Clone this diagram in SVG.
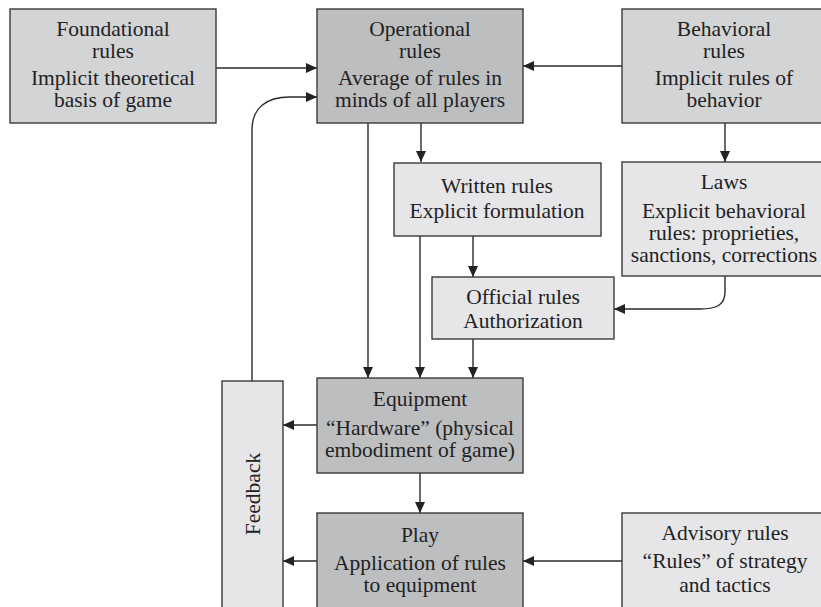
<svg xmlns="http://www.w3.org/2000/svg" width="821" height="607" viewBox="0 0 821 607">
<style>
.box{stroke:#3a3a3a;stroke-width:1.4}
.l{fill:#e6e6e8}.m{fill:#d3d4d6}.d{fill:#bdbec0}
text{font-family:"Liberation Serif","DejaVu Serif",serif;font-size:21.5px;fill:#222;text-anchor:middle}
.c{fill:none;stroke:#2a2a2a;stroke-width:1.4}
</style>
<defs>
<marker id="ah" markerUnits="userSpaceOnUse" markerWidth="11" markerHeight="10" refX="11" refY="5" orient="auto">
<path d="M0,0 L11,5 L0,10 z" fill="#222"/>
</marker>
</defs>
<rect width="821" height="607" fill="#ffffff"/>
<g id="connectors">
<path class="c" d="M216 68 H317" marker-end="url(#ah)"/>
<path class="c" d="M622 66 H523" marker-end="url(#ah)"/>
<path class="c" d="M252 381 V130 C252 108 266 97 290 97 H317" marker-end="url(#ah)"/>
<path class="c" d="M421 123 V162" marker-end="url(#ah)"/>
<path class="c" d="M725 123 V162" marker-end="url(#ah)"/>
<path class="c" d="M368 123 V378" marker-end="url(#ah)"/>
<path class="c" d="M420 236 V378" marker-end="url(#ah)"/>
<path class="c" d="M473 236 V277" marker-end="url(#ah)"/>
<path class="c" d="M473 339 V378" marker-end="url(#ah)"/>
<path class="c" d="M725 276 V292 C725 304 718 309 700 309 H614" marker-end="url(#ah)"/>
<path class="c" d="M317 425 H283" marker-end="url(#ah)"/>
<path class="c" d="M420 473 V513" marker-end="url(#ah)"/>
<path class="c" d="M317 561 H283" marker-end="url(#ah)"/>
<path class="c" d="M622 561 H523" marker-end="url(#ah)"/>
</g>
<g id="foundational">
<rect class="box m" x="10" y="9" width="206" height="114"/>
<text x="113" y="36">Foundational</text>
<text x="113" y="58">rules</text>
<text x="113" y="85">Implicit theoretical</text>
<text x="113" y="107">basis of game</text>
</g>
<g id="operational">
<rect class="box d" x="317" y="9" width="206" height="114"/>
<text x="420" y="36">Operational</text>
<text x="420" y="58">rules</text>
<text x="420" y="85">Average of rules in</text>
<text x="420" y="107">minds of all players</text>
</g>
<g id="behavioral">
<rect class="box m" x="622" y="9" width="205" height="114"/>
<text x="724" y="36">Behavioral</text>
<text x="724" y="58">rules</text>
<text x="724" y="85">Implicit rules of</text>
<text x="724" y="107">behavior</text>
</g>
<g id="written">
<rect class="box l" x="394" y="163" width="207" height="73"/>
<text x="497" y="193">Written rules</text>
<text x="497" y="218">Explicit formulation</text>
</g>
<g id="laws">
<rect class="box l" x="622" y="162" width="205" height="114"/>
<text x="724" y="189">Laws</text>
<text x="724" y="218">Explicit behavioral</text>
<text x="724" y="240">rules: proprieties,</text>
<text x="724" y="262">sanctions, corrections</text>
</g>
<g id="official">
<rect class="box l" x="432" y="277" width="182" height="62"/>
<text x="523" y="304">Official rules</text>
<text x="523" y="328">Authorization</text>
</g>
<g id="equipment">
<rect class="box d" x="317" y="378" width="206" height="95"/>
<text x="420" y="406">Equipment</text>
<text x="420" y="435">“Hardware” (physical</text>
<text x="420" y="457">embodiment of game)</text>
</g>
<g id="feedback">
<rect class="box l" x="222" y="381" width="61" height="240"/>
<text transform="translate(260,494) rotate(-90)">Feedback</text>
</g>
<g id="play">
<rect class="box d" x="317" y="513" width="206" height="110"/>
<text x="420" y="542">Play</text>
<text x="420" y="570">Application of rules</text>
<text x="420" y="592">to equipment</text>
</g>
<g id="advisory">
<rect class="box l" x="622" y="513" width="205" height="110"/>
<text x="725" y="540">Advisory rules</text>
<text x="725" y="568">“Rules” of strategy</text>
<text x="725" y="592">and tactics</text>
</g>
</svg>
